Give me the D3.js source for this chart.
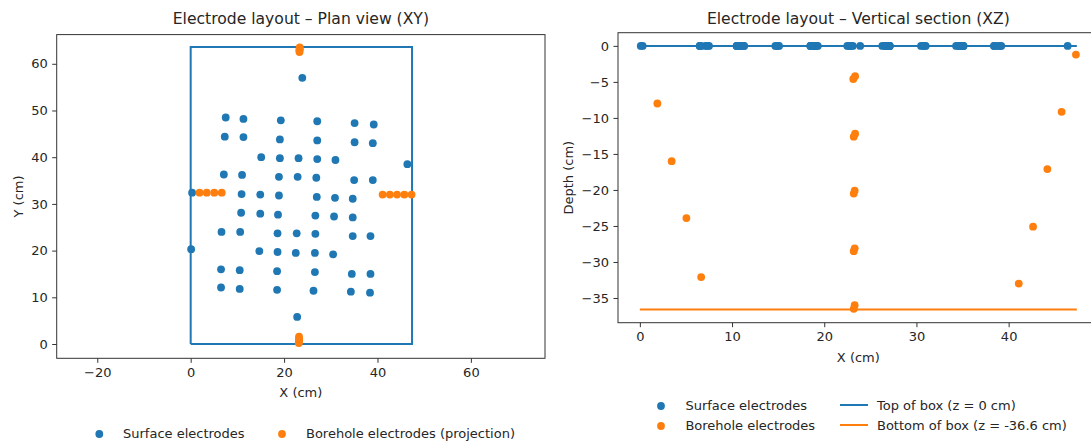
<!DOCTYPE html>
<html>
<head>
<meta charset="utf-8">
<script src="https://cdn.jsdelivr.net/npm/d3@7"></script>
<style>
  html, body { margin: 0; padding: 0; background: #ffffff; }
  svg { display: block; font-family: "DejaVu Sans", sans-serif; }
</style>
</head>
<body>
<svg id="chart" width="1091" height="442"></svg>
<script>
// Surface electrodes (plan coordinates, cm); all sit at z = 0
const surfX = [23.9, 7.5, 11.3, 19.3, 27.1, 35.1, 39.2, 7.3, 11.3, 19.1, 27.1, 35.1, 39.0,
  15.1, 19.1, 23.1, 27.1, 31.0, 46.4, 7.1, 11.0, 18.9, 22.9, 26.9, 35.0, 39.0,
  0.3, 10.9, 14.9, 18.9, 27.0, 30.9, 34.7, 10.8, 14.9, 18.7, 26.7, 30.7, 34.7,
  6.6, 10.6, 18.6, 22.7, 26.7, 34.7, 38.5, 0.1, 14.7, 18.6, 22.5, 26.6, 30.5,
  6.5, 10.5, 18.5, 26.6, 34.5, 38.5, 6.5, 10.5, 18.5, 26.3, 34.3, 38.4, 22.8];
const surfY = [57.0, 48.5, 48.2, 47.9, 47.7, 47.3, 47.0, 44.4, 44.3, 43.8, 43.6, 43.2, 43.0,
  40.0, 39.8, 39.8, 39.6, 39.4, 38.5, 36.3, 36.2, 35.8, 35.8, 35.6, 35.1, 35.1,
  32.4, 32.1, 32.0, 31.8, 31.5, 31.3, 31.1, 28.1, 27.9, 27.7, 27.5, 27.3, 27.1,
  24.0, 24.0, 23.7, 23.7, 23.6, 23.1, 23.1, 20.3, 19.9, 19.7, 19.5, 19.5, 19.2,
  16.0, 15.8, 15.6, 15.4, 15.0, 15.0, 12.1, 11.8, 11.6, 11.4, 11.2, 11.0, 5.8];

// Borehole electrodes: two inclined holes, then two near-vertical holes
const boreX = [1.9, 3.45, 5.05, 6.65,
  47.3, 45.75, 44.2, 42.65, 41.1,
  23.35, 23.35, 23.3, 23.3, 23.3,
  23.15, 23.2, 23.2, 23.2, 23.2];
const boreY = [32.4, 32.4, 32.4, 32.4,
  32.0, 32.0, 32.0, 32.0, 32.0,
  63.5, 63.2, 63.0, 62.8, 62.5,
  0.2, 0.5, 0.9, 1.2, 1.6];
const boreZ = [-8.0, -16.0, -23.9, -32.1,
  -1.2, -9.15, -17.1, -25.1, -33.0,
  -4.2, -12.2, -20.1, -28.1, -36.0,
  -4.6, -12.6, -20.5, -28.5, -36.5];

// Box geometry (cm)
const boxWidth = 47.4;
const boxLength = 63.6;
const boxTop = 0;
const boxBottom = -36.6;

// Tick values
const planXTicks = [-20, 0, 20, 40, 60];
const planYTicks = [0, 10, 20, 30, 40, 50, 60];
const secXTicks = [0, 10, 20, 30, 40];
const secZTicks = [0, -5, -10, -15, -20, -25, -30, -35];

const C0 = "#1f77b4", C1 = "#ff7f0e";
const TXT = "#262626";
const R = 3.9;

const svg = d3.select("#chart");
svg.append("rect").attr("width", 1091).attr("height", 442).attr("fill", "#fff");

function styleAxis(g) {
  g.select(".domain").remove();
  g.selectAll(".tick line").attr("stroke", "#333").attr("stroke-width", 1);
  g.selectAll(".tick text").attr("fill", TXT).attr("font-size", 13)
    .attr("font-family", "DejaVu Sans");
}

function drawFrame(box) {
  svg.append("rect")
    .attr("x", box.x0).attr("y", box.y0)
    .attr("width", box.x1 - box.x0).attr("height", box.y1 - box.y0)
    .attr("fill", "none").attr("stroke", "#333").attr("stroke-width", 1);
}

function addText(x, y, txt, size, opts = {}) {
  const t = svg.append("text")
    .attr("x", x).attr("y", y)
    .attr("fill", TXT).attr("font-size", size)
    .attr("text-anchor", opts.anchor || "middle")
    .attr("dominant-baseline", "central")
    .text(txt);
  if (opts.rotate) t.attr("transform", `rotate(-90, ${x}, ${y})`);
  return t;
}

// ---------- Plan view (XY) ----------
const P = { x0: 56.7, x1: 545, y0: 34.6, y1: 358.3 };
const px = d3.scaleLinear().domain([-28.69, 75.87]).range([P.x0, P.x1]);
const py = d3.scaleLinear().domain([-3.06, 66.25]).range([P.y1, P.y0]);

const gP = svg.append("g");
gP.append("g").attr("transform", `translate(0,${P.y1})`)
  .call(d3.axisBottom(px).tickValues(planXTicks).tickSize(4.5).tickPadding(4.5).tickFormat(d3.format("d")))
  .call(styleAxis);
gP.append("g").attr("transform", `translate(${P.x0},0)`)
  .call(d3.axisLeft(py).tickValues(planYTicks).tickSize(4.5).tickPadding(4.5).tickFormat(d3.format("d")))
  .call(styleAxis);

// box outline
const boxPts = [[0, 0], [boxWidth, 0], [boxWidth, boxLength], [0, boxLength], [0, 0]];
gP.append("path")
  .attr("d", d3.line().x(d => px(d[0])).y(d => py(d[1]))(boxPts))
  .attr("fill", "none").attr("stroke", C0).attr("stroke-width", 2);

gP.selectAll("circle.surf").data(d3.range(surfX.length)).join("circle")
  .attr("class", "surf")
  .attr("cx", i => px(surfX[i])).attr("cy", i => py(surfY[i])).attr("r", R)
  .attr("fill", C0);
gP.selectAll("circle.bore").data(d3.range(boreX.length)).join("circle")
  .attr("class", "bore")
  .attr("cx", i => px(boreX[i])).attr("cy", i => py(boreY[i])).attr("r", R)
  .attr("fill", C1);
drawFrame(P);

addText((P.x0 + P.x1) / 2, 19, "Electrode layout \u2013 Plan view (XY)", 15.6);
addText((P.x0 + P.x1) / 2, 392, "X (cm)", 13);
addText(19, (P.y0 + P.y1) / 2, "Y (cm)", 13, { rotate: true });

// legend (plan view)
svg.append("circle").attr("cx", 99.3).attr("cy", 434).attr("r", R).attr("fill", C0);
addText(123, 433, "Surface electrodes", 13, { anchor: "start" });
svg.append("circle").attr("cx", 282).attr("cy", 434).attr("r", R).attr("fill", C1);
addText(306, 433, "Borehole electrodes (projection)", 13, { anchor: "start" });

// ---------- Vertical section (XZ) ----------
const S = { x0: 618, x1: 1098.7, y0: 32.7, y1: 322.7 };
const sx = d3.scaleLinear().domain([-2.37, 49.77]).range([S.x0, S.x1]);
const sz = d3.scaleLinear().domain([-38.43, 1.83]).range([S.y1, S.y0]);

const gS = svg.append("g");
gS.append("g").attr("transform", `translate(0,${S.y1})`)
  .call(d3.axisBottom(sx).tickValues(secXTicks).tickSize(4.5).tickPadding(4.5).tickFormat(d3.format("d")))
  .call(styleAxis);
gS.append("g").attr("transform", `translate(${S.x0},0)`)
  .call(d3.axisLeft(sz).tickValues(secZTicks).tickSize(4.5).tickPadding(4.5).tickFormat(d3.format("d")))
  .call(styleAxis);

gS.append("line")
  .attr("x1", sx(0)).attr("x2", sx(boxWidth)).attr("y1", sz(boxTop)).attr("y2", sz(boxTop))
  .attr("stroke", C0).attr("stroke-width", 2);
gS.append("line")
  .attr("x1", sx(0)).attr("x2", sx(boxWidth)).attr("y1", sz(boxBottom)).attr("y2", sz(boxBottom))
  .attr("stroke", C1).attr("stroke-width", 2);

gS.selectAll("circle.surf").data(d3.range(surfX.length)).join("circle")
  .attr("class", "surf")
  .attr("cx", i => sx(surfX[i])).attr("cy", sz(0)).attr("r", R)
  .attr("fill", C0);
gS.selectAll("circle.bore").data(d3.range(boreX.length)).join("circle")
  .attr("class", "bore")
  .attr("cx", i => sx(boreX[i])).attr("cy", i => sz(boreZ[i])).attr("r", R)
  .attr("fill", C1);
drawFrame(S);

addText((S.x0 + S.x1) / 2, 19, "Electrode layout \u2013 Vertical section (XZ)", 15.6);
addText((S.x0 + S.x1) / 2, 357, "X (cm)", 13);
addText(569, (S.y0 + S.y1) / 2, "Depth (cm)", 13, { rotate: true });

// legend (section)
svg.append("circle").attr("cx", 661).attr("cy", 406).attr("r", R).attr("fill", C0);
addText(685.4, 405, "Surface electrodes", 13, { anchor: "start" });
svg.append("circle").attr("cx", 661).attr("cy", 426).attr("r", R).attr("fill", C1);
addText(685.4, 425, "Borehole electrodes", 13, { anchor: "start" });
svg.append("line").attr("x1", 840).attr("x2", 868).attr("y1", 405).attr("y2", 405)
  .attr("stroke", C0).attr("stroke-width", 2);
addText(877, 405, "Top of box (z = 0 cm)", 13, { anchor: "start" });
svg.append("line").attr("x1", 840).attr("x2", 868).attr("y1", 425).attr("y2", 425)
  .attr("stroke", C1).attr("stroke-width", 2);
addText(877, 425, "Bottom of box (z = -36.6 cm)", 13, { anchor: "start" });
</script>
</body>
</html>
